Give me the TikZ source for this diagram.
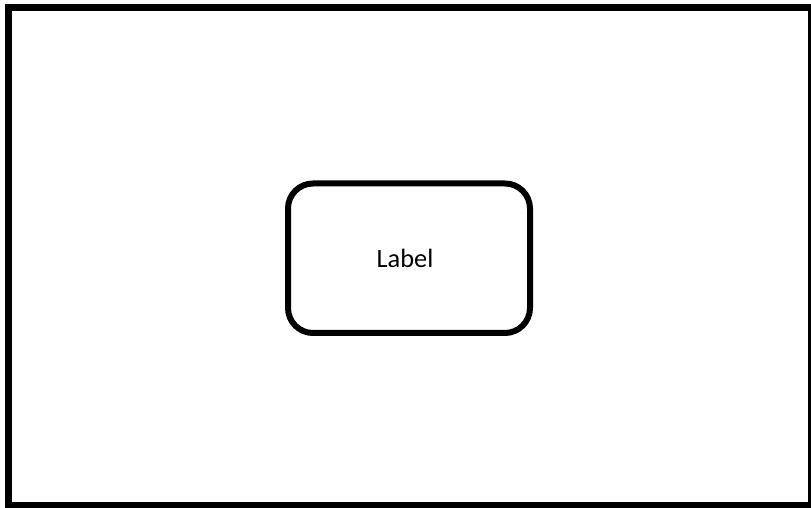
\documentclass[tikz,border=0pt]{standalone}
\usepackage{fontspec}
\setmainfont{Carlito}
\usepackage{tikz}
\usetikzlibrary{positioning}
\definecolor{inkblack}{RGB}{0,0,0}
\tikzset{
  frame/.style={draw=inkblack,line width=3.5pt},
  roundbox/.style={draw=inkblack,line width=3pt,fill=white,rounded corners=12.5pt,
               minimum width=121pt,minimum height=74.75pt,inner sep=0pt,align=center,
               font=\fontsize{13.2}{15}\selectfont},
}
\begin{document}
\begin{tikzpicture}[x=0.5pt,y=0.5pt]
  \path[use as bounding box] (0,0) rectangle (811,508);
  \draw[frame] (8.5,2.5) rectangle (811.5,500.5);

  \node[roundbox] (box) at (409,249.75) {\hspace*{-4pt}Label};
\end{tikzpicture}
\end{document}
